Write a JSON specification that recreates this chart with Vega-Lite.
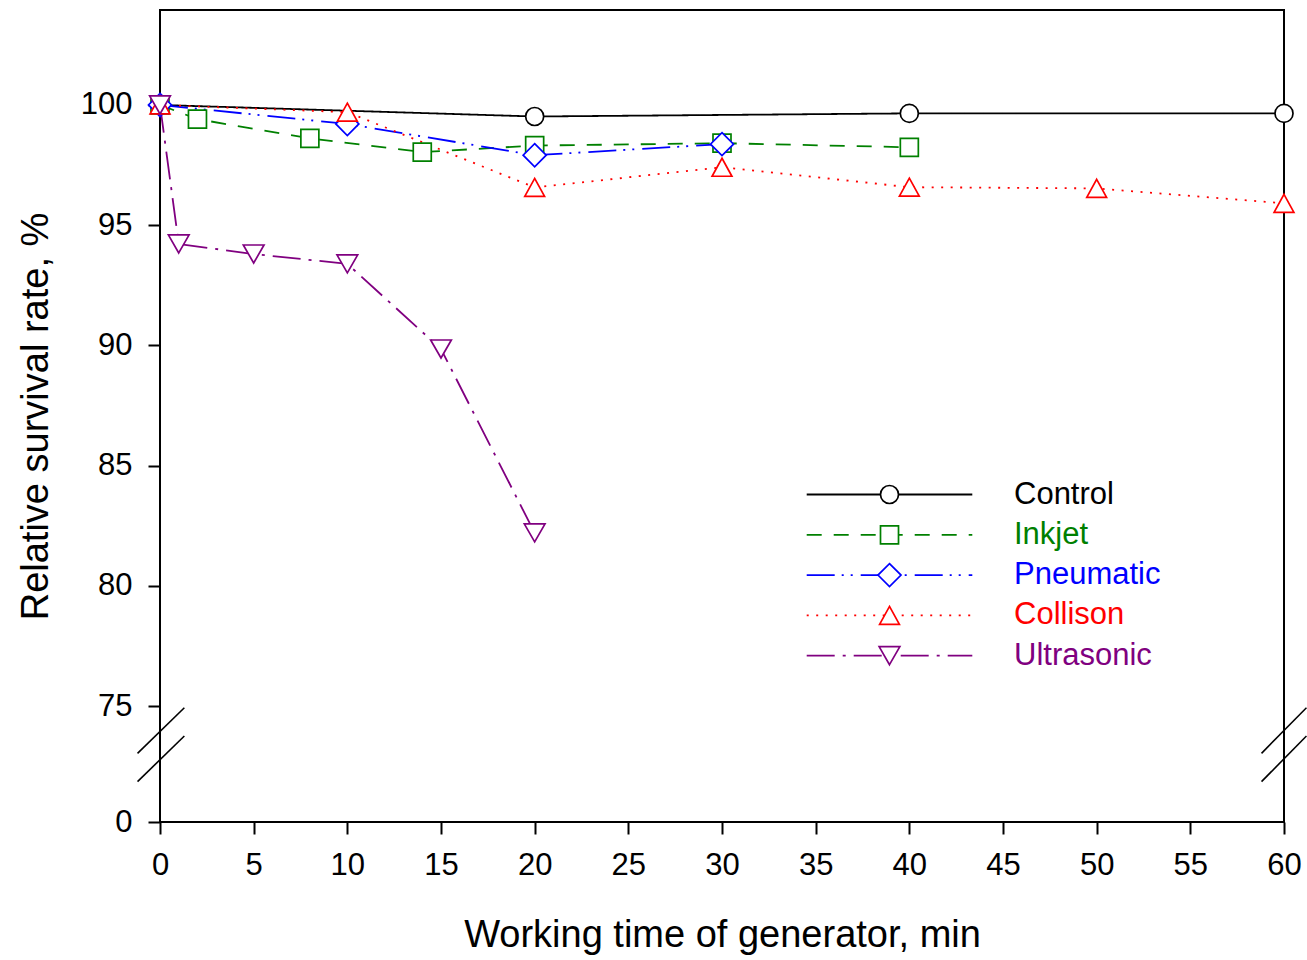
{
  "$schema": "https://vega.github.io/schema/vega-lite/v6.json",
  "width": 1124,
  "height": 812,
  "autosize": {"type": "none"},
  "padding": {"left": 160, "top": 10, "right": 23, "bottom": 138},
  "background": "white",
  "config": {
    "font": "Liberation Sans",
    "view": {"stroke": "black", "strokeWidth": 2},
    "axis": {"domain": false, "grid": false, "ticks": true, "tickColor": "black", "tickWidth": 2, "tickSize": 12, "labelFont": "Liberation Sans", "labelFontSize": 31, "labelColor": "black", "labelPadding": 16, "titleFont": "Liberation Sans", "titleFontSize": 38, "titleFontWeight": "normal", "titleColor": "black"},
    "legend": {"labelFont": "Liberation Sans", "labelFontSize": 31, "padding": 0}
  },
  "datasets": {
    "survival": [
      {"series": "Control", "time": 0, "rate": 100},
      {"series": "Control", "time": 20, "rate": 99.52},
      {"series": "Control", "time": 40, "rate": 99.65},
      {"series": "Control", "time": 60, "rate": 99.65},
      {"series": "Inkjet", "time": 0, "rate": 100},
      {"series": "Inkjet", "time": 2, "rate": 99.41},
      {"series": "Inkjet", "time": 8, "rate": 98.61},
      {"series": "Inkjet", "time": 14, "rate": 98.04},
      {"series": "Inkjet", "time": 20, "rate": 98.31},
      {"series": "Inkjet", "time": 30, "rate": 98.41},
      {"series": "Inkjet", "time": 40, "rate": 98.24},
      {"series": "Pneumatic", "time": 0, "rate": 100},
      {"series": "Pneumatic", "time": 10, "rate": 99.21},
      {"series": "Pneumatic", "time": 20, "rate": 97.91},
      {"series": "Pneumatic", "time": 30, "rate": 98.37},
      {"series": "Collison", "time": 0, "rate": 100},
      {"series": "Collison", "time": 10, "rate": 99.7},
      {"series": "Collison", "time": 20, "rate": 96.57},
      {"series": "Collison", "time": 30, "rate": 97.41},
      {"series": "Collison", "time": 40, "rate": 96.58},
      {"series": "Collison", "time": 50, "rate": 96.53},
      {"series": "Collison", "time": 60, "rate": 95.91},
      {"series": "Ultrasonic", "time": 0, "rate": 100},
      {"series": "Ultrasonic", "time": 1, "rate": 94.22},
      {"series": "Ultrasonic", "time": 5, "rate": 93.8},
      {"series": "Ultrasonic", "time": 10, "rate": 93.39},
      {"series": "Ultrasonic", "time": 15, "rate": 89.85},
      {"series": "Ultrasonic", "time": 20, "rate": 82.2}
    ],
    "breaks": [
      {"bx1": -1.2, "by1": 44.4, "bx2": 1.3, "by2": 73.9},
      {"bx1": -1.2, "by1": 26.1, "bx2": 1.3, "by2": 55.6},
      {"bx1": 58.8, "by1": 44.4, "bx2": 61.2, "by2": 73.9},
      {"bx1": 58.8, "by1": 26.1, "bx2": 61.2, "by2": 55.6}
    ]
  },
  "layer": [
    {
      "data": {"name": "survival"},
      "mark": {"type": "line", "strokeWidth": 1.8},
      "encoding": {
        "x": {"field": "time", "type": "quantitative", "title": "Working time of generator, min",
              "scale": {"domain": [0, 60], "nice": false},
              "axis": {"values": [0,5,10,15,20,25,30,35,40,45,50,55,60], "labelFlush": false, "labelOverlap": false, "titlePadding": 36}},
        "y": {"field": "rate", "type": "quantitative", "title": "Relative survival rate, %",
              "scale": {"domain": [0, 75, 103.95], "range": [812, 696, 0], "nice": false, "zero": false},
              "axis": {"values": [0,75,80,85,90,95,100], "labelOverlap": false, "titlePadding": 25}},
        "color": {"field": "series", "type": "nominal",
                  "scale": {"domain": ["Control","Inkjet","Pneumatic","Collison","Ultrasonic"], "range": ["#000000","#008000","#0000ff","#ff0000","#800080"]},
                  "legend": {"orient": "none", "legendX": 714, "legendY": 469, "title": null, "labelFontSize": 31, "labelOffset": 109, "rowPadding": 8.3, "symbolSize": 324, "symbolFillColor": "white", "symbolStrokeWidth": 1.7, "labelColor": {"expr": "scale('color', datum.value)"}, "zindex": 2}},
        "strokeDash": {"field": "series", "type": "nominal",
                  "scale": {"range": [[2,7.5],[1,0],[15,12],[28,7,2,7,2,8],[28,8,3,8]]},
                  "legend": {"orient": "none", "legendX": 714, "legendY": 469, "title": null, "values": ["Control","Inkjet","Pneumatic","Collison","Ultrasonic"], "labelFontSize": 31, "labelOffset": 109, "labelOpacity": 0, "rowPadding": 8.3, "symbolSize": 324, "symbolType": "M-9.2,0H9.2", "symbolStrokeWidth": 1.8, "symbolStrokeColor": {"expr": "scale('color', datum.value)"}, "zindex": 1}}
      }
    },
    {
      "data": {"name": "survival"},
      "mark": {"type": "point", "filled": false, "fill": "white", "strokeWidth": 1.7, "size": 324, "opacity": 1},
      "encoding": {
        "x": {"field": "time", "type": "quantitative", "title": "Working time of generator, min"},
        "y": {"field": "rate", "type": "quantitative", "title": "Relative survival rate, %"},
        "color": {"field": "series", "type": "nominal",
                  "legend": {"orient": "none", "legendX": 714, "legendY": 469, "title": null, "labelFontSize": 31, "labelOffset": 109, "rowPadding": 8.3, "symbolSize": 324, "symbolFillColor": "white", "symbolStrokeWidth": 1.7, "labelColor": {"expr": "scale('color', datum.value)"}, "zindex": 2}},
        "shape": {"field": "series", "type": "nominal",
                  "scale": {"domain": ["Control","Inkjet","Pneumatic","Collison","Ultrasonic"], "range": ["circle", "square", "M0,-1.28L1.28,0L0,1.28L-1.28,0Z", "M0,-1L1.1,1L-1.1,1Z", "M0,1L1.15,-1L-1.15,-1Z"]}}
      }
    },
    {
      "data": {"name": "breaks"},
      "mark": {"type": "rule", "strokeWidth": 1.6, "color": "black", "clip": false},
      "encoding": {
        "x": {"field": "bx1", "type": "quantitative", "title": "Working time of generator, min"},
        "x2": {"field": "bx2"},
        "y": {"field": "by1", "type": "quantitative", "title": "Relative survival rate, %"},
        "y2": {"field": "by2"}
      }
    }
  ]
}
